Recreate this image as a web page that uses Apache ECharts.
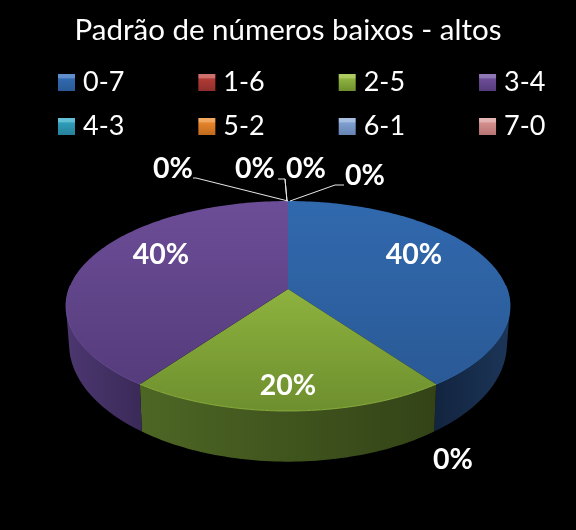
<!DOCTYPE html>
<html><head><meta charset="utf-8">
<style>html,body{margin:0;padding:0;background:#000}#c{width:576px;height:530px}</style>
<script src="https://cdn.jsdelivr.net/npm/echarts@6/dist/echarts.min.js"></script>
</head><body><div id="c"></div>
<script>
const titleText = 'Padrão de números baixos - altos';
const categories = ['0-7','1-6','2-5','3-4','4-3','5-2','6-1','7-0'];
const values = [2,0,1,2,0,0,0,0];

// styling (per category)
const topA  = ['#3169ae','#b03a36','#8eb23f','#6c4d97','#2f9db8','#e5842a','#7f9fd0','#d48f8d'];
const topB  = ['#2a5a96','#8f2e2b','#6e8f2e','#553c7c','#26809a','#c06a1e','#6684b2','#b57472'];
const wallL = ['#12243f','#5a1d1b','#4d6624','#4c3770','#175060','#804612','#40567a','#70484a'];
const wallR = ['#1c3558','#5a1d1b','#334317','#3a2a58','#175060','#804612','#40567a','#70484a'];
const bevel = ['#5f8fcc','#d0706c','#aecb62','#9078b5','#62bfd6','#f2a860','#a8bfe2','#e4b4b2'];
// label placement relative to the pie apex, and leader polylines
const apex = [288,289];
const labelAt = [[126,-34],[165,171],[0,97],[-127,-34],[-115,-120],[-33,-120],[18,-120],[77,-113]];
const leaders = [null,null,null,null,
  [[0,-88],[-92,-111],[-95,-111]],
  [[-1,-88],[-3,-110],[-10,-110]],
  [[-1,-88],[-3,-110],[-3,-110]],
  [[2,-88],[47,-104],[56,-104]]];

const k = 0.162;
const topPlane = {cy:289, A:102.2, B:219};
const botPlane = {cy:325, A:114.5, B:216};
function proj(t, plane){
  const u = Math.sin(t), v = -Math.cos(t), d = 1 - k*v;
  return [apex[0] + plane.B*u/d, plane.cy + plane.A*v/d];
}
const total = values.reduce((a,b)=>a+b,0);
const startAngle = [];
values.reduce((acc,v,i)=>{startAngle[i]=acc; return acc + v/total*2*Math.PI;},0);

function arcAngles(a,b){
  const out=[]; const n=Math.max(2,Math.ceil((b-a)/0.02));
  for(let i=0;i<=n;i++) out.push(a+(b-a)*i/n);
  return out;
}
function grad(x0,y0,x1,y1,stops){
  return new echarts.graphic.LinearGradient(x0,y0,x1,y1,stops.map((c,i)=>({offset:i/(stops.length-1),color:c})));
}
function renderSlice(i){
  return function(){
    const children=[];
    const a=startAngle[i], b=a+values[i]/total*2*Math.PI;
    const pct=Math.round(values[i]/total*100)+'%';
    if(values[i]>0){
      const ts=arcAngles(a,b);
      // wall: union of quads
      let d=''; let x0=1e9,y0=1e9,x1=-1e9,y1=-1e9;
      for(let j=0;j<ts.length-1;j++){
        if(-Math.cos(ts[j])<-0.25 && -Math.cos(ts[j+1])<-0.25) continue;
        let q=[proj(ts[j],topPlane),proj(ts[j+1],topPlane),proj(ts[j+1],botPlane),proj(ts[j],botPlane)];
        let area=0;
        q.forEach((p,m)=>{const r=q[(m+1)%4];area+=p[0]*r[1]-r[0]*p[1];
          x0=Math.min(x0,p[0]);x1=Math.max(x1,p[0]);y0=Math.min(y0,p[1]);y1=Math.max(y1,p[1]);});
        if(area<0) q.reverse();
        d+='M'+q.map(p=>p[0].toFixed(2)+' '+p[1].toFixed(2)).join('L')+'Z';
      }
      children.push({type:'path',z2:1,shape:{pathData:d,x:x0,y:y0,width:x1-x0,height:y1-y0,layout:'cover'},
        style:{fill:grad(0,0,1,0,[wallL[i],wallR[i]])}});
      // top face
      const pts=[apex.slice()].concat(ts.map(t=>proj(t,topPlane)));
      children.push({type:'polygon',z2:2,shape:{points:pts},
        style:{fill:grad(0,0,0,1,[topA[i],topB[i]])}});
      // rim highlight on the front
      const rim=ts.filter(t=>-Math.cos(t)>-0.05).map(t=>proj(t,topPlane));
      if(rim.length>1) children.push({type:'polyline',z2:3,shape:{points:rim},
        style:{fill:null,stroke:topA[i],lineWidth:1,opacity:0.9}});
    }
    if(leaders[i]){
      children.push({type:'polyline',z2:4,shape:{points:leaders[i].map(p=>[apex[0]+p[0],apex[1]+p[1]])},
        style:{fill:null,stroke:'#e8e8e8',lineWidth:1}});
    }
    children.push({type:'text',z2:5,style:{
      x:apex[0]+labelAt[i][0],y:apex[1]+labelAt[i][1],text:pct,fill:'#fff',
      font:'bold 28.5px Lato',textAlign:'center',textVerticalAlign:'middle'}});
    return {type:'group',children};
  };
}
const legendItem = i => ({name:categories[i],itemStyle:{color:new echarts.graphic.LinearGradient(0,0,0,1,[
  {offset:0,color:bevel[i]},{offset:0.2,color:bevel[i]},{offset:0.3,color:topA[i]},{offset:1,color:topB[i]}])}});
const legendCommon = {left:58,itemWidth:17,itemHeight:17,itemGap:74,icon:'rect',selectedMode:false,orient:'horizontal',padding:0,
  formatter:'{a|{name}}',
  textStyle:{color:'#fff',fontFamily:'Lato',fontSize:27,
    rich:{a:{width:57,padding:[0,0,0,3],color:'#fff',fontFamily:'Lato',fontSize:27}}}};
const chart = echarts.init(document.getElementById('c'),null,{renderer:'canvas'});
chart.setOption({
  animation:false,
  backgroundColor:'#000',
  title:{text:titleText,left:'center',top:15,padding:0,textStyle:{color:'#fff',fontFamily:'Lato',fontWeight:'normal',fontSize:29.5}},
  legend:[
    Object.assign({},legendCommon,{top:69,data:[0,1,2,3].map(legendItem)}),
    Object.assign({},legendCommon,{top:113,data:[4,5,6,7].map(legendItem)})
  ],
  series:categories.map((name,i)=>({
    type:'custom',name,coordinateSystem:'none',silent:true,
    data:[[values[i]]],
    renderItem:renderSlice(i)
  }))
});
</script></body></html>
